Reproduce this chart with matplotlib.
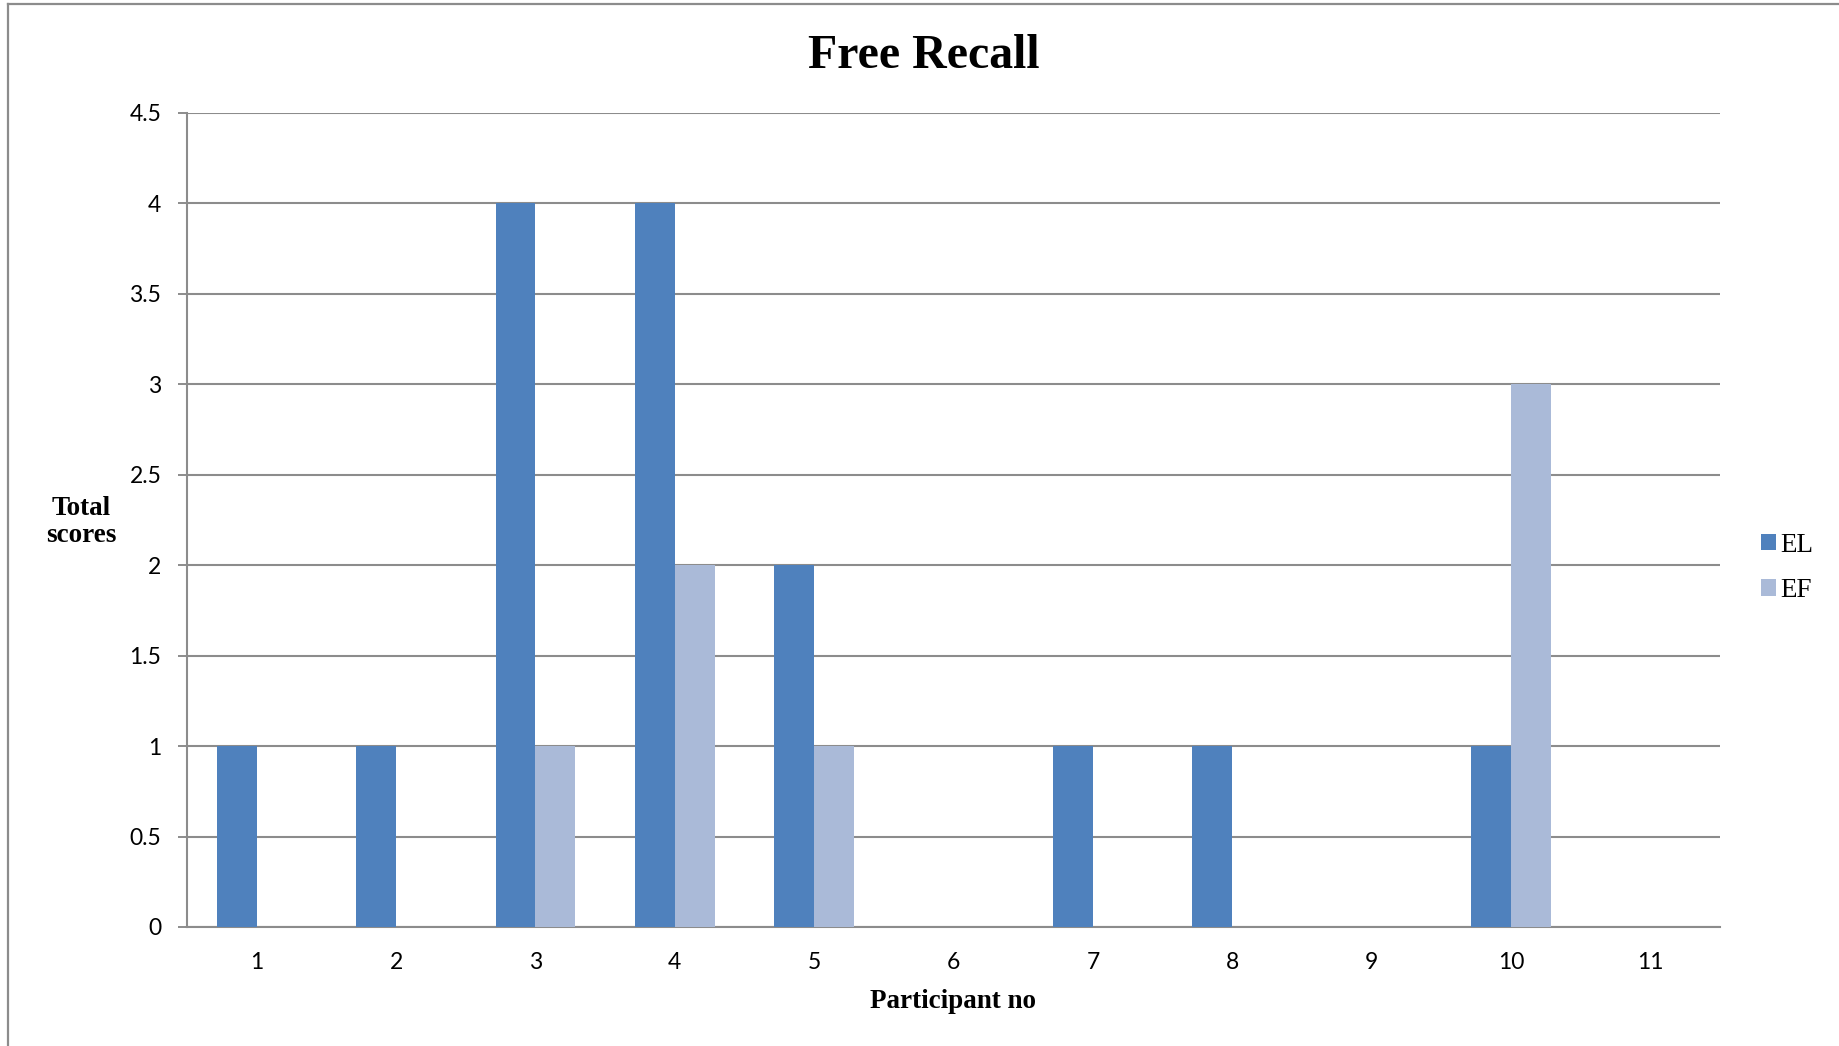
import matplotlib

matplotlib.use('Agg')
import matplotlib.pyplot as plt
import numpy as np
from matplotlib.lines import Line2D

PARTICIPANTS = ["1", "2", "3", "4", "5", "6", "7", "8", "9", "10", "11"]
EL_SCORES = [1, 1, 4, 4, 2, 0, 1, 1, 0, 1, 0]
EF_SCORES = [0, 0, 1, 2, 1, 0, 0, 0, 0, 3, 0]
Y_TICKS = [0, 0.5, 1, 1.5, 2, 2.5, 3, 3.5, 4, 4.5]

EL_COLOR = "#4F81BD"
EF_COLOR = "#AABAD8"
GRID = "#8c8c8c"
SERIF = "Liberation Serif"
SANS = "Lato"

fig = plt.figure(figsize=(18.39, 10.46), dpi=100)
ax = fig.add_axes([0.1017, 0.1138, 0.8336, 0.7782])

x = np.arange(len(PARTICIPANTS))
w = 0.2857
ax.bar(x - w / 2, EL_SCORES, width=w, color=EL_COLOR, label="EL", zorder=3)
ax.bar(x + w / 2, EF_SCORES, width=w, color=EF_COLOR, label="EF", zorder=3)

ax.set_xlim(-0.5, len(PARTICIPANTS) - 0.5)
ax.set_ylim(0, 4.5)
ax.set_yticks(Y_TICKS)
ax.set_yticklabels([f"{t:g}" for t in Y_TICKS], fontsize=16.5, family=SANS)
ax.set_xticks(x)
ax.set_xticklabels(PARTICIPANTS, fontsize=16.5, family=SANS)
ax.tick_params(axis="y", length=6.5, width=1.4, color=GRID, pad=12)
ax.tick_params(axis="x", length=0, pad=18)

ax.yaxis.grid(True, color=GRID, linewidth=1.5, zorder=1)
ax.set_axisbelow(True)
for side in ("top", "right"):
    ax.spines[side].set_visible(False)
for side in ("left", "bottom"):
    ax.spines[side].set_color(GRID)
    ax.spines[side].set_linewidth(1.5)

fig.text(0.5025, 0.946, "Free Recall", ha="center", va="center",
         fontsize=34.5, fontweight="bold", family=SERIF)
fig.text(0.044, 0.501, "Total\nscores", ha="center", va="center",
         fontsize=19.5, fontweight="bold", family=SERIF, linespacing=1.15)
fig.text(0.518, 0.043, "Participant no", ha="center", va="center",
         fontsize=19.5, fontweight="bold", family=SERIF)

fig.legend(loc="center left", bbox_to_anchor=(0.9575, 0.457),
           frameon=False, handlelength=0.55, handleheight=0.55,
           handletextpad=0.15, labelspacing=0.75,
           prop={"family": SERIF, "size": 19.5}, borderpad=0, borderaxespad=0)

# outer chart border (left and top edges)
fig.add_artist(Line2D([0.0046, 0.0046], [0, 0.9962], transform=fig.transFigure,
                      color=GRID, linewidth=1.6))
fig.add_artist(Line2D([0.0046, 1], [0.9962, 0.9962], transform=fig.transFigure,
                      color=GRID, linewidth=1.6))

fig.savefig("out.png", dpi=100)
